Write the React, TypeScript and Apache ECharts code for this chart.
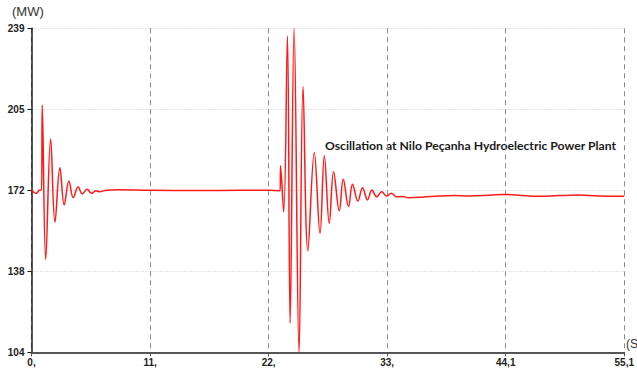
import React, { useEffect, useRef } from "react";
import * as echarts from "echarts";

// time (s)
const times: number[] = [
  0, 0.42, 0.79, 0.93, 1.0, 1.32, 1.78, 2.18, 2.64, 3.04, 3.48, 3.88, 4.34, 4.71, 5.17, 5.58, 5.98, 6.35, 6.81,
  7.93, 10.99, 15.62, 19.33, 22.12, 23.11,
  23.15, 23.44, 23.79, 24.04, 24.41, 24.87, 25.24, 25.69, 26.29, 26.82, 27.22, 27.68, 28.08, 28.61, 28.98,
  29.47, 29.84, 30.34, 30.77, 31.23, 31.64, 32.09, 32.55, 33.01, 33.43, 33.94, 34.45,
  35.1, 36.49, 37.88, 39.27, 40.66, 42.52, 44.0, 45.3, 47.16, 49.0, 50.86, 52.71, 55.1,
];

// active power (MW)
const power: number[] = [
  171.9, 170.25, 171.6, 171.6, 207.0, 142.75, 192.9, 158.2, 180.9, 165.4, 175.4, 168.4, 173.0, 170.0, 171.9, 170.25, 171.3, 170.9, 171.4,
  171.7, 171.5, 171.4, 171.5, 171.5, 171.3,
  181.75, 162.5, 235.8, 116.2, 239, 104, 214.7, 146.3, 187.3, 153.6, 185.9, 157.75, 179.25, 163, 176.1,
  164.7, 174, 167, 172.6, 167.5, 171.6, 168.8, 170.9, 169.1, 170.25, 168.8, 168.9,
  168.4, 168.7, 169.1, 169.3, 169.1, 169.4, 169.8, 169.4, 169.0, 169.3, 169.5, 169.1, 169.0,
];

const yMin = 104;
const yMax = 239;
const xTickLabels: string[] = ["0,", "11,", "22,", "33,", "44,1", "55,1"];
const yUnit = "(MW)";
const xUnit = "(S";
const annotation = "Oscillation at Nilo Peçanha Hydroelectric Power Plant";

export default function App() {
  const ref = useRef<HTMLDivElement>(null);
  useEffect(() => {
    if (!ref.current) return;
    const chart = echarts.init(ref.current, undefined, { renderer: "svg" });
    const span = yMax - yMin;
    const xMax = 55.1;
    const xInt = xMax / 5;
    const data = times.map((t, i) => [t, power[i] - yMin]);
    const labelFont = "'Liberation Sans Narrow', 'Liberation Sans', Arial, sans-serif";
    chart.setOption({
      animation: false,
      backgroundColor: "#ffffff",
      grid: { left: 31.5, right: 11.3, top: 28.3, bottom: 18.7, containLabel: false },
      xAxis: {
        type: "value",
        min: 0,
        max: xMax,
        interval: xInt,
        axisLine: { show: true, lineStyle: { color: "#555", width: 2 } },
        axisTick: { show: true, length: 4, lineStyle: { color: "#555", width: 1 } },
        axisLabel: {
          margin: 5,
          color: "#222",
          fontWeight: "bold",
          fontSize: 10,
          fontFamily: labelFont,
          showMinLabel: true,
          showMaxLabel: true,
          formatter: (v: number) => xTickLabels[Math.round(v / xInt)] ?? "",
        },
        splitLine: { show: true, lineStyle: { color: "#8a8a8a", type: [5, 4], width: 1 } },
      },
      yAxis: {
        type: "value",
        min: 0,
        max: span,
        interval: span / 4,
        axisLine: { show: true, lineStyle: { color: "#1a1a1a", width: 1.5 } },
        axisTick: { show: true, length: 4, lineStyle: { color: "#1a1a1a", width: 1 } },
        axisLabel: {
          margin: 7,
          color: "#222",
          fontWeight: "bold",
          fontSize: 10,
          fontFamily: labelFont,
          formatter: (v: number) => String(Math.round(v + yMin)),
        },
        splitLine: { show: true, lineStyle: { color: "#c8c8c8", type: [1, 2], width: 1 } },
      },
      series: [
        {
          type: "line",
          data,
          showSymbol: false,
          smooth: 0.4,
          lineStyle: { color: "#ff1a1a", width: 1.5 },
          itemStyle: { color: "#ff1a1a" },
        },
      ],
      graphic: [
        {
          type: "text",
          left: 12,
          top: 5,
          style: { text: yUnit, fill: "#333", fontSize: 13, fontFamily: "'Liberation Sans', Arial, sans-serif" },
        },
        {
          type: "text",
          left: 626,
          top: 338,
          style: { text: xUnit, fill: "#333", fontSize: 12, fontFamily: "'Liberation Sans', Arial, sans-serif" },
        },
        {
          type: "text",
          left: 325,
          top: 139,
          style: { text: annotation, fill: "#1a1a1a", fontSize: 12.2, fontWeight: "bold", fontFamily: "Lato, 'Open Sans', sans-serif" },
        },
      ],
    });
    return () => chart.dispose();
  }, []);
  return (
    <div
      ref={ref}
      style={{ position: "fixed", left: 0, top: 0, width: 637, height: 371, background: "#fff" }}
    />
  );
}
